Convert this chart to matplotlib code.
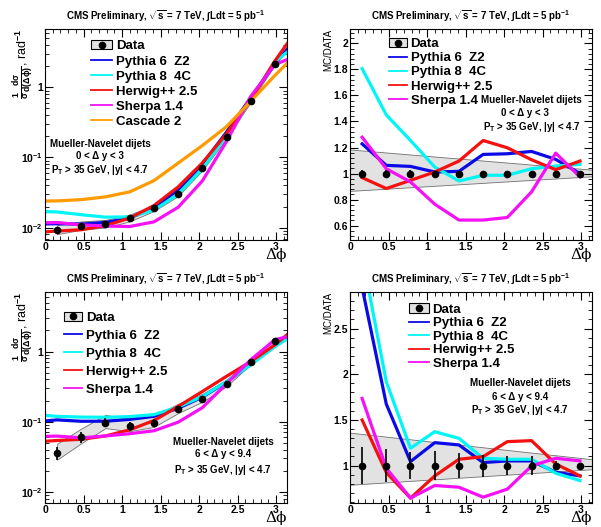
import matplotlib
matplotlib.use('Agg')
import matplotlib.pyplot as plt
from matplotlib.lines import Line2D
from matplotlib.patches import Patch
from matplotlib.ticker import MultipleLocator, FormatStrFormatter, LogLocator, FixedLocator, FixedFormatter, NullFormatter

plt.rcParams['font.family'] = ['Liberation Sans', 'DejaVu Sans']
plt.rcParams['font.weight'] = 'bold'
plt.rcParams['mathtext.fontset'] = 'custom'
plt.rcParams['mathtext.rm'] = 'Liberation Sans:bold'
plt.rcParams['mathtext.it'] = 'Liberation Sans:bold'
plt.rcParams['mathtext.bf'] = 'Liberation Sans:bold'

# bin centres (data points) and curve abscissae
xc = [0.157, 0.471, 0.785, 1.100, 1.414, 1.728, 2.042, 2.356, 2.670, 2.985]
xcurve = [0.0, 0.157, 0.471, 0.785, 1.100, 1.414, 1.728, 2.042, 2.356, 2.670, 2.985, 3.1416]

labels = ['Pythia 6  Z2', 'Pythia 8  4C', 'Herwig++ 2.5', 'Sherpa 1.4', 'Cascade 2']
colors = ['#0a0ae6', '#00f5f5', '#f51010', '#f510f5', '#ff9a00']

# ---- 0 < dy < 3, distributions
data_lo = [0.00927, 0.01057, 0.01127, 0.01358, 0.01884, 0.0304, 0.0698, 0.197, 0.640, 2.17]
data_lo_err = [0.03, 0.03, 0.03, 0.025, 0.025, 0.02, 0.02, 0.02, 0.02, 0.02]
band_lo_up = [1.177, 1.162, 1.146, 1.131, 1.115, 1.100, 1.084, 1.069, 1.053, 1.038]
band_lo_dn = [0.873, 0.884, 0.895, 0.906, 0.917, 0.929, 0.940, 0.951, 0.962, 0.974]
py6_lo = [0.01130, 0.01138, 0.01125, 0.01189, 0.01374, 0.01914, 0.0349, 0.0804, 0.230, 0.710, 2.17, 3.47]
py8_lo = [0.01698, 0.01675, 0.01531, 0.01413, 0.01426, 0.01778, 0.0300, 0.0689, 0.204, 0.678, 2.32, 3.16]
hw_lo = [0.00871, 0.00897, 0.00935, 0.01069, 0.01374, 0.02065, 0.0381, 0.0836, 0.218, 0.659, 2.38, 4.17]
sh_lo = [0.01175, 0.01186, 0.01096, 0.01054, 0.01040, 0.01211, 0.01954, 0.0463, 0.169, 0.740, 2.11, 2.48]
cas_lo = [0.0240, 0.0241, 0.0251, 0.0275, 0.0324, 0.0468, 0.0832, 0.148, 0.275, 0.631, 1.48, 2.19]

# ---- 0 < dy < 3, MC/DATA
rband_lo_up = [1.185, 1.03]
rband_lo_dn = [0.867, 0.979]
rerr_lo = [0.03, 0.025, 0.025, 0.02, 0.02, 0.02, 0.02, 0.02, 0.02, 0.02]
py6_r_lo = [1.228, 1.063, 1.055, 1.012, 1.017, 1.147, 1.152, 1.170, 1.109, 1.0]
py8_r_lo = [1.806, 1.45, 1.254, 1.05, 0.943, 0.987, 0.987, 1.037, 1.058, 1.07]
hw_r_lo = [0.969, 0.885, 0.948, 1.012, 1.096, 1.254, 1.198, 1.106, 1.03, 1.096]
sh_r_lo = [1.279, 1.037, 0.936, 0.765, 0.643, 0.643, 0.663, 0.859, 1.157, 0.974]

# ---- 6 < dy < 9.4, distributions
data_hi = [0.0359, 0.0605, 0.0971, 0.0861, 0.0971, 0.150, 0.213, 0.348, 0.706, 1.406]
data_hi_err = [0.2, 0.18, 0.15, 0.16, 0.14, 0.12, 0.10, 0.10, 0.045, 0.03]
band_hi_up = [1.345, 1.316, 1.287, 1.258, 1.229, 1.200, 1.171, 1.142, 1.112, 1.083]
band_hi_dn = [0.798, 0.815, 0.832, 0.850, 0.866, 0.883, 0.900, 0.917, 0.934, 0.951]
py6_hi = [0.1023, 0.1059, 0.1012, 0.1014, 0.1076, 0.1189, 0.1549, 0.2244, 0.3664, 0.6546, 1.247, 1.622]
py8_hi = [0.1230, 0.1189, 0.1161, 0.1153, 0.1180, 0.1259, 0.1618, 0.2280, 0.3724, 0.6471, 1.175, 1.514]
hw_hi = [0.0525, 0.0538, 0.0560, 0.0625, 0.0764, 0.1038, 0.1648, 0.2692, 0.4436, 0.7194, 1.247, 1.738]
sh_hi = [0.0617, 0.0622, 0.0587, 0.0625, 0.0673, 0.0741, 0.0982, 0.1581, 0.3467, 0.7621, 1.479, 1.622]

# ---- 6 < dy < 9.4, MC/DATA
rband_hi_up = [1.36, 1.069]
rband_hi_dn = [0.79, 0.96]
py6_r_hi = [2.95, 1.673, 1.044, 1.251, 1.226, 1.033, 1.051, 1.051, 0.927, 0.887]
py8_r_hi = [3.3, 1.917, 1.19, 1.371, 1.298, 1.08, 1.069, 1.069, 0.916, 0.836]
hw_r_hi = [1.499, 0.924, 0.644, 0.887, 1.069, 1.098, 1.262, 1.273, 1.018, 0.887]
sh_r_hi = [1.735, 0.971, 0.644, 0.782, 0.763, 0.654, 0.742, 0.996, 1.08, 1.051]

ones = [1.0] * len(xc)
band_x = [0.0, 3.1416]

title = r'CMS Preliminary, $\sqrt{s}$ = 7 TeV, $\int$Ldt = 5 pb$^{-1}$'

fig = plt.figure(figsize=(6.01, 5.27), dpi=100)
ax_tl = fig.add_axes([0.0749, 0.5446, 0.4027, 0.4004])
ax_tr = fig.add_axes([0.5824, 0.5446, 0.4027, 0.4004])
ax_bl = fig.add_axes([0.0749, 0.0455, 0.4027, 0.4004])
ax_br = fig.add_axes([0.5824, 0.0455, 0.4027, 0.4004])

band_fc = '#e2e2e2'
band_ec = '#707070'
lw = 2.3
ann = dict(ha='center', va='center', fontsize=7)


def style(ax):
    ax.set_xlim(0, 3.1416)
    ax.xaxis.set_major_locator(MultipleLocator(0.5))
    ax.xaxis.set_minor_locator(MultipleLocator(0.1))
    ax.xaxis.set_major_formatter(FormatStrFormatter('%g'))
    ax.tick_params(which='both', direction='in', top=True, right=True, labelsize=7.5, pad=1.5)
    ax.tick_params(which='major', length=6, width=0.8)
    ax.tick_params(which='minor', length=3, width=0.6)
    for s in ax.spines.values():
        s.set_linewidth(0.8)
    ax.set_title(title, fontsize=7, fontweight='bold', pad=7)
    ax.text(1.0, -0.07, '\u0394\u03d5', transform=ax.transAxes, ha='right', va='center',
            fontsize=11, family='DejaVu Serif', fontweight='normal')


def log_axis(ax, ylim):
    ax.set_yscale('log')
    ax.set_ylim(*ylim)
    ax.yaxis.set_major_locator(FixedLocator([0.01, 0.1, 1]))
    ax.yaxis.set_major_formatter(FixedFormatter([r'10$^{-2}$', r'10$^{-1}$', '1']))
    ax.yaxis.set_minor_locator(LogLocator(base=10, subs=[2, 3, 4, 5, 6, 7, 8, 9]))
    ax.yaxis.set_minor_formatter(NullFormatter())
    ax.set_ylabel(r'$\frac{1}{\sigma}\frac{d\sigma}{d(\Delta\phi)}$, rad$^{-1}$', fontsize=9, loc='top')
    ax.yaxis.set_label_coords(-0.04, 1.0)


def data_handle():
    return (Patch(facecolor=band_fc, edgecolor='black', linewidth=0.8),
            Line2D([], [], color='black', marker='o', markersize=4.5, linestyle='none'))


def leg(ax, n, anchor, hl, sp):
    handles = [data_handle()] + [Line2D([], [], color=c, lw=1.3) for c in colors[:n]]
    ax.legend(handles, ['Data'] + labels[:n], loc='upper left', bbox_to_anchor=anchor, frameon=False,
              fontsize=9.5, handlelength=hl, handletextpad=0.3, labelspacing=sp, borderpad=0,
              borderaxespad=0)


# ---------------- top-left
ax = ax_tl
up = [d * b for d, b in zip(data_lo, band_lo_up)]
dn = [d * b for d, b in zip(data_lo, band_lo_dn)]
ax.fill_between(xc, dn, up, facecolor=band_fc, edgecolor=band_ec, linewidth=0.6, zorder=1)
for y, c in zip([py6_lo, py8_lo, hw_lo, sh_lo, cas_lo], colors):
    ax.plot(xcurve, y, color=c, lw=lw, zorder=2)
ax.errorbar(xc, data_lo, yerr=[d * e for d, e in zip(data_lo, data_lo_err)], fmt='o', color='black',
            markersize=4.5, elinewidth=1.2, capsize=0, zorder=5)
log_axis(ax, (0.00668, 6.77))
style(ax)
leg(ax, 5, (0.19, 0.947), 1.6, 0.22)
ax.text(0.227, 0.455, 'Mueller-Navelet dijets', transform=ax.transAxes, **ann)
ax.text(0.227, 0.398, '0 < \u0394 y < 3', transform=ax.transAxes, **ann)
ax.text(0.227, 0.332, r'P$_{T}$ > 35 GeV, |y| < 4.7', transform=ax.transAxes, **ann)

# ---------------- top-right
ax = ax_tr
ax.fill_between(band_x, rband_lo_dn, rband_lo_up, facecolor=band_fc, edgecolor=band_ec, linewidth=0.6, zorder=1)
for y, c in zip([py6_r_lo, py8_r_lo, hw_r_lo, sh_r_lo], colors):
    ax.plot(xc, y, color=c, lw=lw, zorder=2)
ax.errorbar(xc, ones, yerr=rerr_lo, fmt='o', color='black', markersize=4.5, elinewidth=1.2, capsize=0, zorder=5)
ax.set_ylim(0.49, 2.11)
ax.yaxis.set_major_locator(MultipleLocator(0.2))
ax.yaxis.set_minor_locator(MultipleLocator(0.04))
ax.yaxis.set_major_formatter(FormatStrFormatter('%g'))
ax.set_ylabel('MC/DATA', fontsize=7, loc='top')
ax.yaxis.set_label_coords(-0.07, 1.0)
style(ax)
leg(ax, 4, (0.163, 0.957), 1.3, 0.14)
ax.text(0.748, 0.664, 'Mueller-Navelet dijets', transform=ax.transAxes, **ann)
ax.text(0.723, 0.602, '0 < \u0394 y < 3', transform=ax.transAxes, **ann)
ax.text(0.752, 0.536, r'P$_{T}$ > 35 GeV, |y| < 4.7', transform=ax.transAxes, **ann)

# ---------------- bottom-left
ax = ax_bl
up = [d * b for d, b in zip(data_hi, band_hi_up)]
dn = [d * b for d, b in zip(data_hi, band_hi_dn)]
ax.fill_between(xc, dn, up, facecolor=band_fc, edgecolor=band_ec, linewidth=0.6, zorder=1)
for y, c in zip([py6_hi, py8_hi, hw_hi, sh_hi], colors):
    ax.plot(xcurve, y, color=c, lw=lw, zorder=2)
ax.errorbar(xc, data_hi, yerr=[d * e for d, e in zip(data_hi, data_hi_err)], fmt='o', color='black',
            markersize=4.5, elinewidth=1.2, capsize=0, zorder=5)
log_axis(ax, (0.0069, 7.07))
style(ax)
leg(ax, 4, (0.08, 0.906), 1.36, 0.43)
ax.text(0.736, 0.289, 'Mueller-Navelet dijets', transform=ax.transAxes, **ann)
ax.text(0.736, 0.232, '6 < \u0394 y < 9.4', transform=ax.transAxes, **ann)
ax.text(0.736, 0.156, r'P$_{T}$ > 35 GeV, |y| < 4.7', transform=ax.transAxes, **ann)

# ---------------- bottom-right
ax = ax_br
ax.fill_between(band_x, rband_hi_dn, rband_hi_up, facecolor=band_fc, edgecolor=band_ec, linewidth=0.6, zorder=1)
for y, c in zip([py6_r_hi, py8_r_hi, hw_r_hi, sh_r_hi], colors):
    ax.plot(xc, y, color=c, lw=lw, zorder=2)
ax.errorbar(xc, ones, yerr=data_hi_err, fmt='o', color='black', markersize=4.5, elinewidth=1.2, capsize=0, zorder=5)
ax.set_ylim(0.59, 2.9)
ax.yaxis.set_major_locator(MultipleLocator(0.5))
ax.yaxis.set_minor_locator(MultipleLocator(0.1))
ax.yaxis.set_major_formatter(FormatStrFormatter('%g'))
ax.set_ylabel('MC/DATA', fontsize=7, loc='top')
ax.yaxis.set_label_coords(-0.07, 1.0)
style(ax)
leg(ax, 4, (0.243, 0.946), 1.5, 0.10)
ax.text(0.702, 0.569, 'Mueller-Navelet dijets', transform=ax.transAxes, **ann)
ax.text(0.702, 0.502, '6 < \u0394 y < 9.4', transform=ax.transAxes, **ann)
ax.text(0.702, 0.441, r'P$_{T}$ > 35 GeV, |y| < 4.7', transform=ax.transAxes, **ann)

fig.savefig('out.png', dpi=100)
